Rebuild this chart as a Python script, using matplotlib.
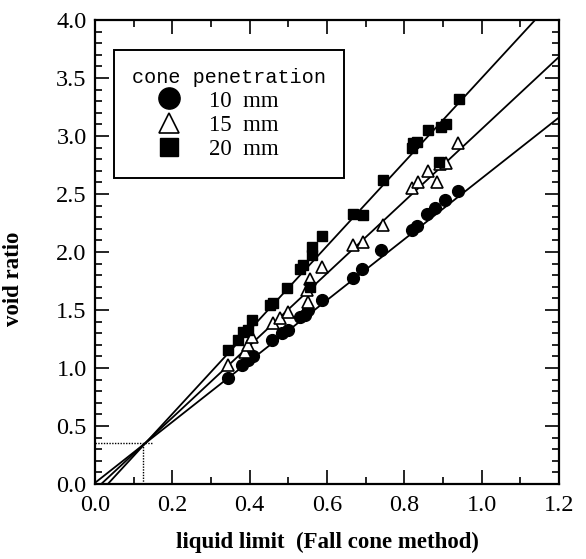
import numpy as np
import matplotlib.pyplot as plt
from matplotlib.lines import Line2D

# data: liquid limit (x) vs void ratio (y)
ll_10 = [0.345, 0.379, 0.396, 0.409, 0.457, 0.483, 0.500, 0.530, 0.543, 0.552,
         0.586, 0.668, 0.690, 0.740, 0.819, 0.832, 0.858, 0.880, 0.905, 0.940]
e_10 = [0.91, 1.03, 1.07, 1.10, 1.24, 1.30, 1.33, 1.44, 1.46, 1.50,
        1.59, 1.78, 1.85, 2.02, 2.19, 2.22, 2.33, 2.38, 2.45, 2.53]

ll_15 = [0.345, 0.388, 0.396, 0.405, 0.461, 0.478, 0.500, 0.552, 0.547, 0.556,
         0.586, 0.668, 0.694, 0.746, 0.819, 0.836, 0.862, 0.884, 0.892, 0.909, 0.940]
e_15 = [1.03, 1.14, 1.20, 1.27, 1.385, 1.43, 1.485, 1.57, 1.67, 1.77,
        1.87, 2.06, 2.09, 2.23, 2.55, 2.60, 2.70, 2.60, 2.76, 2.77, 2.94]

ll_20 = [0.345, 0.371, 0.384, 0.396, 0.405, 0.453, 0.461, 0.496, 0.530, 0.539,
         0.556, 0.560, 0.560, 0.586, 0.668, 0.694, 0.746, 0.819, 0.823, 0.834,
         0.862, 0.890, 0.894, 0.909, 0.941]
e_20 = [1.155, 1.24, 1.31, 1.33, 1.41, 1.54, 1.56, 1.69, 1.85, 1.89,
        1.70, 1.97, 2.04, 2.14, 2.33, 2.32, 2.62, 2.90, 2.94, 2.95,
        3.05, 2.78, 3.08, 3.10, 3.32]

# fitted lines (slope, intercept) for 10, 15, 20 mm
slopes = [2.625, 3.11, 3.62]
intercepts = [0.01, -0.05, -0.12]

# common point marked with dotted lines
x_cross = 0.125
y_cross = 0.356

labels = ['10  mm', '15  mm', '20  mm']

serif = 'Liberation Serif'
mono = 'Liberation Mono'

fig = plt.figure(figsize=(5.86, 5.59), dpi=100)
ax = fig.add_axes([95 / 586, 75 / 559, 464 / 586, 464 / 559])

# regression lines
xs = np.linspace(-0.1, 1.3, 50)
for a, b in zip(slopes, intercepts):
    ax.plot(xs, a * xs + b, color='k', lw=1.3, zorder=2)

# dotted guide lines
ax.plot([0, x_cross + 0.022], [y_cross, y_cross], ls=(0, (1, 1)), color='k', lw=1.0)
ax.plot([x_cross, x_cross], [0, y_cross], ls=(0, (1, 1)), color='k', lw=1.0)

ax.plot(ll_10, e_10, 'o', ms=8.5, mfc='k', mec='k', ls='none', zorder=3)
ax.plot(ll_15, e_15, '^', ms=8, mfc='white', mec='k', mew=1.2, ls='none', zorder=3)
ax.plot(ll_20, e_20, 's', ms=7.5, mfc='k', mec='k', ls='none', zorder=3)

ax.set_xlim(0, 1.2)
ax.set_ylim(0, 4.0)
ax.set_xticks(np.arange(0, 1.21, 0.2))
ax.set_xticks(np.arange(0, 1.21, 0.1), minor=True)
ax.set_yticks(np.arange(0, 4.01, 0.5))
ax.set_yticks(np.arange(0, 4.01, 0.1), minor=True)
ax.set_xticklabels([f'{v:.1f}' for v in np.arange(0, 1.21, 0.2)])
ax.set_yticklabels([f'{v:.1f}' for v in np.arange(0, 4.01, 0.5)])

ax.tick_params(which='both', direction='in', top=True, right=True, width=1.2)
ax.tick_params(which='major', length=10)
ax.tick_params(which='minor', length=5)
ax.tick_params(axis='x', pad=8)
ax.tick_params(axis='y', pad=6)
for lab in ax.get_xticklabels() + ax.get_yticklabels():
    lab.set_fontfamily(serif)
    lab.set_fontsize(17.5)
for sp in ax.spines.values():
    sp.set_linewidth(1.6)

ax.set_xlabel('liquid limit  (Fall cone method)', fontfamily=serif,
              fontweight='bold', fontsize=16.5)
ax.xaxis.set_label_coords(0.5, -0.104)
ax.set_ylabel('void ratio', fontfamily=serif, fontweight='bold', fontsize=16.5)
ax.yaxis.set_label_coords(-0.152, 0.442)

# legend
handles = [
    Line2D([], [], marker='o', ms=8.5, mfc='k', mec='k', ls='none'),
    Line2D([], [], marker='^', ms=8, mfc='white', mec='k', mew=1.2, ls='none'),
    Line2D([], [], marker='s', ms=7.5, mfc='k', mec='k', ls='none'),
]
leg = ax.legend(handles, labels, title='cone penetration', loc='upper left',
                bbox_to_anchor=(0.041, 0.935), borderaxespad=0,
                prop={'family': serif, 'size': 16.5},
                title_fontproperties={'family': mono, 'size': 14.5},
                alignment='left', markerscale=1.8, handlelength=3.25,
                handletextpad=0.1, labelspacing=0.15, borderpad=0.78,
                fancybox=False, framealpha=1, edgecolor='k')
leg.get_frame().set_linewidth(1.4)

fig.savefig('out.png', dpi=100)
